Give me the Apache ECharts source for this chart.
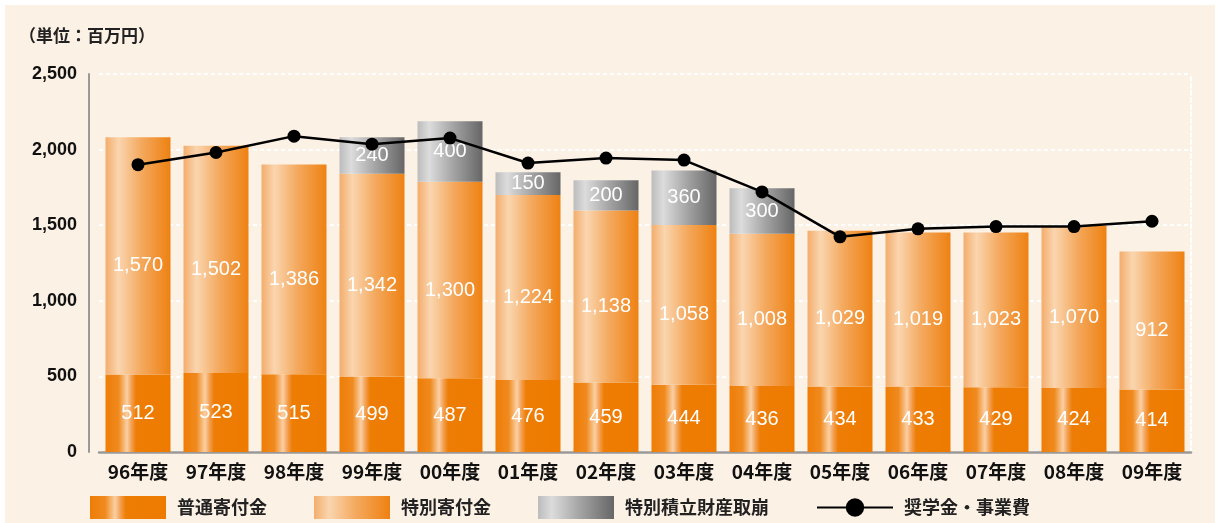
<!DOCTYPE html>
<html>
<head>
<meta charset="utf-8">
<script src="https://cdn.jsdelivr.net/npm/echarts@6/dist/echarts.min.js"></script>
<style>
html,body{margin:0;padding:0;background:#ffffff;}
#bg{position:absolute;left:5px;top:5px;width:1210px;height:518px;background:#fcf1e5;}
#chart{position:absolute;left:0;top:0;width:1225px;height:523px;}
</style>
</head>
<body>
<div id="bg"></div>
<div id="chart"></div>
<script>
const categories = ['96年度','97年度','98年度','99年度','00年度','01年度','02年度','03年度','04年度','05年度','06年度','07年度','08年度','09年度'];
const ordinaryDonations = [512,523,515,499,487,476,459,444,436,434,433,429,424,414];
const specialDonations = [1570,1502,1386,1342,1300,1224,1138,1058,1008,1029,1019,1023,1070,912];
const reserveWithdrawals = ['-','-','-',240,400,150,200,360,300,'-','-','-','-','-'];
const scholarshipCosts = [1900,1981,2089,2036,2076,1911,1944,1931,1720,1423,1476,1491,1491,1526];
const yTicks = [0,500,1000,1500,2000,2500];

const CJK = "'Noto Sans CJK JP', sans-serif";
const NUM = "'Liberation Sans', Arial, sans-serif";
const fmt = v => Number(v).toLocaleString('en-US');

function hgrad(stops){
  return {type:'linear',x:0,y:0,x2:1,y2:0,colorStops:stops.map(s=>({offset:s[0],color:s[1]}))};
}
const ordGrad = hgrad([[0,'#ee7d06'],[0.2,'#f08a1f'],[0.33,'#fad0a4'],[0.4,'#f3a052'],[0.47,'#ee7d05'],[1,'#ee7b00']]);
const spGrad = hgrad([[0,'#f3ad6c'],[0.2,'#fad5af'],[0.55,'#f4a95e'],[1,'#ee8112']]);
const grGrad = hgrad([[0,'#bcbcbc'],[0.18,'#dcdcdc'],[0.55,'#a4a4a4'],[1,'#666666']]);

const chart = echarts.init(document.getElementById('chart'), null, {renderer:'canvas'});
const valueLabel = {
  show:true, position:'inside', color:'#ffffff', fontFamily:NUM, fontSize:20,
  formatter: p => (p.value === '-' || p.value == null) ? '' : fmt(p.value)
};
chart.setOption({
  backgroundColor:'transparent',
  animation:false,
  title:{
    text:'（単位：百万円）', left:19, top:27, padding:0,
    textStyle:{fontFamily:CJK, fontSize:17, fontWeight:'bold', color:'#222222'}
  },
  legend:{
    left:90, top:496, padding:0, itemWidth:76, itemHeight:23, itemGap:47,
    textStyle:{fontFamily:CJK, fontSize:18, fontWeight:'bold', color:'#222222', padding:[0,0,0,6]},
    data:[
      {name:'普通寄付金', icon:'rect'},
      {name:'特別寄付金', icon:'rect'},
      {name:'特別積立財産取崩', icon:'rect'},
      {name:'奨学金・事業費'}
    ]
  },
  grid:{left:99, right:34, top:74, bottom:71},
  xAxis:{
    type:'category', data:categories, boundaryGap:true,
    axisLine:{show:true, lineStyle:{color:'#999999', width:2.5}},
    axisTick:{show:false},
    axisLabel:{interval:0, fontFamily:CJK, fontSize:19, fontWeight:'bold', color:'#111111', margin:10}
  },
  yAxis:[{
    type:'value', min:0, max:2500, interval:500, offset:10,
    axisLine:{show:true, lineStyle:{color:'#999999', width:2}},
    axisTick:{show:false},
    axisLabel:{fontFamily:NUM, fontSize:18, fontWeight:'bold', color:'#111111', margin:12,
      formatter: v => yTicks.includes(v) ? fmt(v) : ''},
    splitLine:{show:true, lineStyle:{color:'#ffffff', width:2, type:[4,3]}}
  },{
    type:'value', min:0, max:2500, interval:500, position:'right',
    axisLine:{show:true, lineStyle:{color:'#ffffff', width:2, type:[4,3]}},
    axisTick:{show:false}, axisLabel:{show:false}, splitLine:{show:false}
  }],
  series:[
    {name:'普通寄付金', type:'bar', stack:'total', data:ordinaryDonations, barWidth:65,
      itemStyle:{color:ordGrad}, label:valueLabel, z:2},
    {name:'特別寄付金', type:'bar', stack:'total', data:specialDonations, barWidth:65,
      itemStyle:{color:spGrad}, label:Object.assign({}, valueLabel, {offset:[0,10]}), z:2},
    {name:'特別積立財産取崩', type:'bar', stack:'total', data:reserveWithdrawals, barWidth:65,
      itemStyle:{color:grGrad}, label:valueLabel, z:2},
    {name:'奨学金・事業費', type:'line', data:scholarshipCosts, symbol:'circle', symbolSize:13,
      itemStyle:{color:'#000000'}, lineStyle:{color:'#000000', width:2.5}, z:5}
  ]
});
</script>
</body>
</html>
